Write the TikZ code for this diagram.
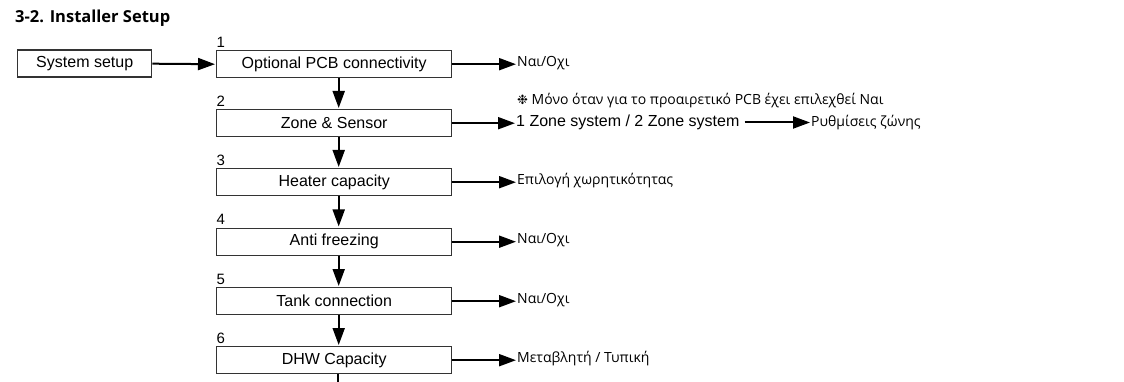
\documentclass[tikz,border=0pt]{standalone}
\usepackage{fontspec}
\setmainfont{Liberation Sans}
\newfontfamily\grk{Open Sans}
\newfontfamily\sym{DejaVu Sans}
\usetikzlibrary{arrows.meta}
\begin{document}
\begin{tikzpicture}[x=1pt,y=-1pt,
  box/.style={draw=black!80, line width=1.4pt, minimum width=235pt, minimum height=27pt, inner sep=0pt, font=\fontsize{16}{18}\selectfont, anchor=north west},
  arr/.style={line width=2pt, -{Triangle[length=17pt,width=12pt]}, shorten >=1pt},
  num/.style={font=\fontsize{15}{16}\selectfont, anchor=south west, inner sep=0pt},
  res/.style={anchor=west, inner sep=0pt, font=\grk\fontsize{14}{16}\selectfont},
  en/.style={anchor=west, inner sep=0pt, font=\fontsize{16}{18}\selectfont},
]
\useasboundingbox (0,0) rectangle (1124,382);
\node[anchor=base west, inner sep=0pt, font=\grk\bfseries\fontsize{16.5}{18}\selectfont] (title) at (15,22.5) {3-2. Installer Setup};

\node[box, minimum width=134pt] (s0) at (17,49.5) {System setup};
\node[box] (b1) at (216,50) {Optional PCB connectivity};
\node[box] (b2) at (216,109) {Zone \& Sensor};
\node[box] (b3) at (216,168) {Heater capacity};
\node[box] (b4) at (216,227.5) {Anti freezing};
\node[box] (b5) at (216,287) {Tank connection};
\node[box] (b6) at (216,346) {DHW Capacity};

\node[num] (n1) at (216.5,47.5) {1};
\node[num] (n2) at (216.5,106.5) {2};
\node[num] (n3) at (216.5,165.5) {3};
\node[num] (n4) at (216.5,225) {4};
\node[num] (n5) at (216.5,284.5) {5};
\node[num] (n6) at (216.5,343.5) {6};

\node[res] (r1) at (517,63.5) {Ναι/Οχι};
\node[en] (r2a) at (516,122.5) {1 Zone system / 2 Zone system};
\node[res] (r2b) at (811,122.5) {Ρυθμίσεις ζώνης};
\node[res, anchor=west] (note) at (517,101) {{\sym\fontsize{13}{14}\selectfont ❉} Μόνο όταν για το προαιρετικό PCB έχει επιλεχθεί Ναι};
\node[res] (r3) at (517,181) {Επιλογή χωρητικότητας};
\node[res] (r4) at (517,240.5) {Ναι/Οχι};
\node[res] (r5) at (517,300) {Ναι/Οχι};
\node[res] (r6) at (517,359) {Μεταβλητή / Τυπική};

\coordinate (end) at (338,382);

\draw[arr] (s0.east) -- (b1.west);
\foreach \a/\b in {b1/b2,b2/b3,b3/b4,b4/b5,b5/b6}
  \draw[arr] ([xshift=4.5pt]\a.south) -- ([xshift=4.5pt]\b.north);
\draw[line width=2pt] (b6.south -| end) -- (end);

\draw[arr] (b1.east) -- (b1.east -| r1.west);
\draw[arr] (b2.east) -- (b2.east -| r2a.west);
\draw[arr] ([xshift=5pt]r2a.east) -- (r2a.east -| r2b.west);
\draw[arr] (b3.east) -- (b3.east -| r3.west);
\draw[arr] (b4.east) -- (b4.east -| r4.west);
\draw[arr] (b5.east) -- (b5.east -| r5.west);
\draw[arr] (b6.east) -- (b6.east -| r6.west);
\end{tikzpicture}
\end{document}
